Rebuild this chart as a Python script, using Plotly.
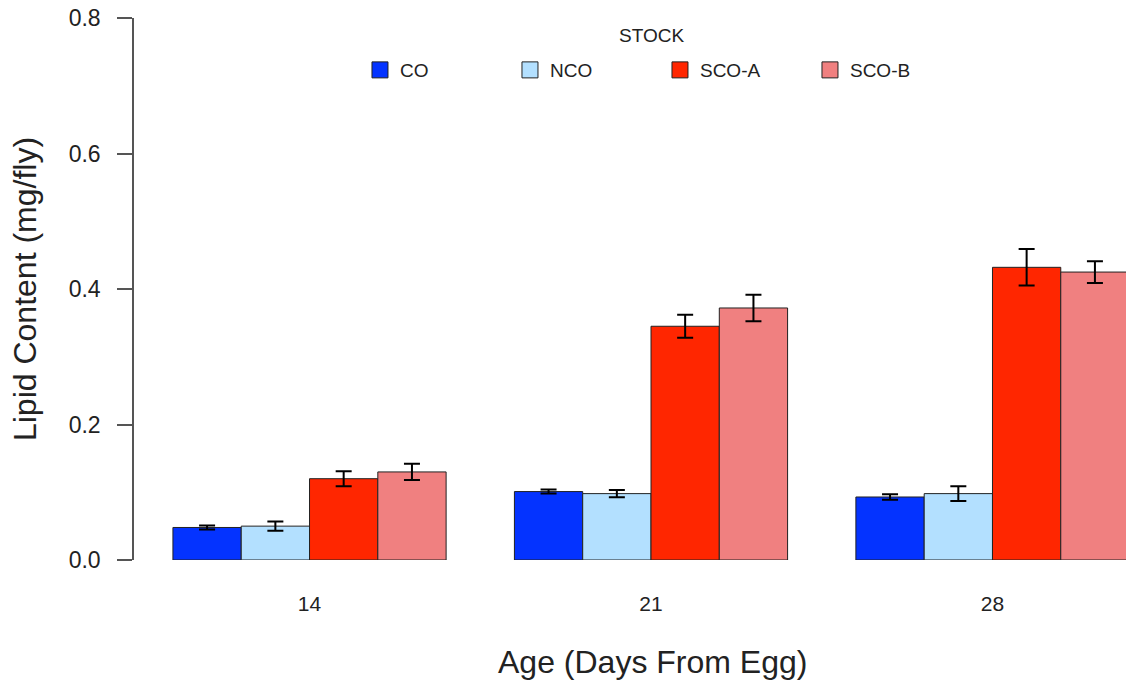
import plotly.graph_objects as go

ages = ["14", "21", "28"]
stocks = ["CO", "NCO", "SCO-A", "SCO-B"]
colors = ["#0433FF", "#B3E0FF", "#FF2600", "#F08080"]

co = [0.048, 0.101, 0.093]
nco = [0.050, 0.098, 0.098]
sco_a = [0.120, 0.345, 0.432]
sco_b = [0.130, 0.372, 0.425]

co_err = [0.003, 0.003, 0.004]
nco_err = [0.007, 0.0055, 0.011]
sco_a_err = [0.011, 0.017, 0.027]
sco_b_err = [0.012, 0.0195, 0.016]

values = [co, nco, sco_a, sco_b]
errors = [co_err, nco_err, sco_a_err, sco_b_err]

fig = go.Figure()
for name, vals, errs, col in zip(stocks, values, errors, colors):
    fig.add_trace(go.Bar(
        x=ages, y=vals, name=name, legendgroup=name, showlegend=False,
        marker=dict(color=col, line=dict(color="#222222", width=1)),
        error_y=dict(type="data", array=errs, visible=True,
                     color="black", thickness=2, width=8),
    ))
# legend entries (square swatches)
for name, col in zip(stocks, colors):
    fig.add_trace(go.Scatter(
        x=[None], y=[None], mode="markers", name=name, legendgroup=name,
        marker=dict(symbol="square", size=20, color=col,
                    line=dict(color="#222222", width=1)),
    ))

font_family = "Liberation Sans, Arial, sans-serif"
fig.update_layout(
    width=1126, height=683,
    barmode="group", bargap=0.2, bargroupgap=0,
    plot_bgcolor="white", paper_bgcolor="white",
    margin=dict(l=134, r=0, t=18, b=123, autoexpand=False),
    font=dict(family=font_family, color="#222222"),
    showlegend=True,
    legend=dict(
        orientation="h", x=0.2278, xanchor="left", y=0.904, yanchor="middle",
        font=dict(size=19), entrywidth=105, entrywidthmode="pixels",
        itemsizing="trace", bgcolor="rgba(0,0,0,0)",
    ),
    annotations=[
        dict(text="STOCK", xref="paper", yref="paper", x=0.5212, y=0.9686,
             xanchor="center", yanchor="middle", showarrow=False,
             font=dict(size=19)),
        dict(text="Age (Days From Egg)", xref="paper", yref="paper",
             x=0.5222, y=-0.1882, xanchor="center", yanchor="middle",
             showarrow=False, font=dict(size=32)),
    ],
    xaxis=dict(
        type="category", range=[-0.514, 2.391],
        showline=False, ticks="", showgrid=False, zeroline=False,
        tickfont=dict(size=21), ticklabelstandoff=29,
    ),
    yaxis=dict(
        range=[0, 0.8], tickvals=[0, 0.2, 0.4, 0.6, 0.8],
        ticktext=["0.0", "0.2", "0.4", "0.6", "0.8"],
        showline=True, linecolor="#555555", linewidth=1.5,
        ticks="outside", ticklen=15, tickcolor="#555555", tickwidth=1.5,
        showgrid=False, zeroline=False,
        tickfont=dict(size=23), ticklabelstandoff=12,
        title=dict(text="Lipid Content (mg/fly)", font=dict(size=32), standoff=22),
    ),
)

fig.write_html("out.html", config={"displayModeBar": False},
               post_script="document.body.style.margin='0';")
